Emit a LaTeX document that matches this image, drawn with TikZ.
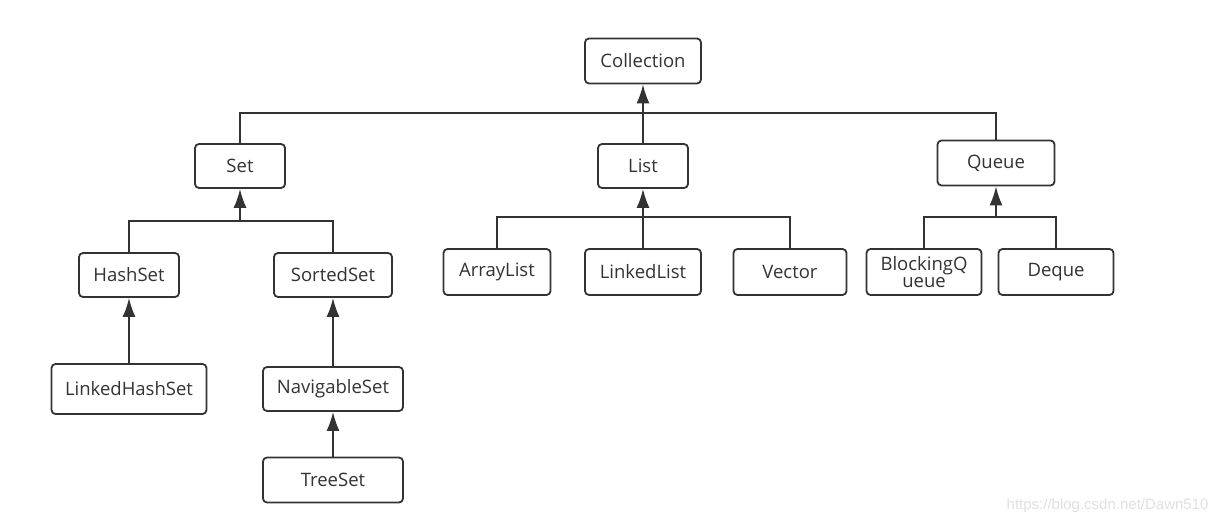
\documentclass[tikz,border=0pt]{standalone}
\usepackage{fontspec}
\setmainfont{Open Sans}
\newfontfamily\markfont{Liberation Sans}
\usetikzlibrary{arrows.meta}

\definecolor{ink}{HTML}{333333}
\tikzset{
  cls/.style={draw=ink,line width=1.8pt,rounded corners=4pt,fill=white,text=ink,
    font=\fontsize{18.5}{19}\selectfont,inner sep=0pt,align=center},
  link/.style={draw=ink,line width=1.8pt},
  uparr/.style={link,-{Latex[length=19pt,width=13pt]}}
}

\begin{document}
\begin{tikzpicture}[x=1pt,y=-1pt]
\useasboundingbox (0,0) rectangle (1218,524);
% top level
\node[cls,minimum width=116pt,minimum height=45pt] (coll) at (643,61){Collection};
\node[cls,minimum width=90pt,minimum height=44pt] (set) at (240,166){Set};
\node[cls,minimum width=90pt,minimum height=44pt] (list) at (643,166){List};
\node[cls,minimum width=117pt,minimum height=45pt] (queue) at (996,163){Queue};
% set branch
\node[cls,minimum width=100pt,minimum height=44pt] (hash) at (129,275){HashSet};
\node[cls,minimum width=118pt,minimum height=44pt] (sorted) at (333,275){SortedSet};
\node[cls,minimum width=155pt,minimum height=50pt] (lhash) at (129,389){LinkedHashSet};
\node[cls,minimum width=140pt,minimum height=44pt] (nav) at (333,389){NavigableSet};
\node[cls,minimum width=140pt,minimum height=45pt] (tree) at (333,480){TreeSet};
% list branch
\node[cls,minimum width=107pt,minimum height=46pt] (alist) at (497,272){ArrayList};
\node[cls,minimum width=116pt,minimum height=46pt] (llist) at (643,272){LinkedList};
\node[cls,minimum width=113pt,minimum height=46pt] (vec) at (790,272){Vector};
% queue branch
\node[cls,minimum width=115pt,minimum height=46pt,font=\fontsize{18.5}{17}\selectfont] (bq) at (924,272){BlockingQ\\ueue};
\node[cls,minimum width=115pt,minimum height=46pt] (deque) at (1056,272){Deque};

\coordinate (topbus) at (643,113);
\coordinate (setbus) at (240,221);
\coordinate (listbus) at (643,217);
\coordinate (queuebus) at (996,217);

\draw[link] (set.north) |- (topbus) -| (queue.north);
\draw[uparr] (list.north) -- (coll.south);
\draw[link] (hash.north) |- (setbus) -| (sorted.north);
\draw[uparr] (setbus) -- (set.south);
\draw[link] (alist.north) |- (listbus) -| (vec.north);
\draw[uparr] (llist.north) -- (list.south);
\draw[link] (bq.north) |- (queuebus) -| (deque.north);
\draw[uparr] (queuebus) -- (queue.south);
\draw[uparr] (lhash.north) -- (hash.south);
\draw[uparr] (nav.north) -- (sorted.south);
\draw[uparr] (tree.north) -- (nav.south);

\node[anchor=east,text=black!12,font=\markfont\fontsize{15}{16}\selectfont] (mark) at (1212,506){https://blog.csdn.net/Dawn510};
\end{tikzpicture}
\end{document}
